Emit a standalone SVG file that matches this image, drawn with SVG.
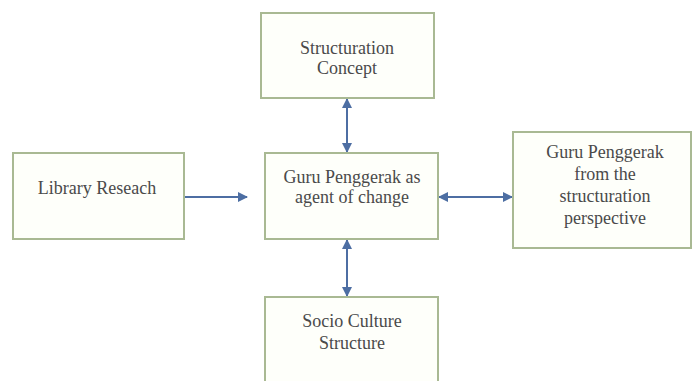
<svg xmlns="http://www.w3.org/2000/svg" width="692" height="381" viewBox="0 0 692 381">
<defs>
<style>
.box{fill:#fefffa;stroke:#a9b993;stroke-width:2}
.c{stroke:#4d6ea3;stroke-width:2;fill:none}
</style>
<marker id="ah" viewBox="0 0 10 10" refX="9" refY="5" markerWidth="5" markerHeight="5" orient="auto-start-reverse" markerUnits="strokeWidth">
<path d="M0,0 L10,5 L0,10 z" fill="#4d6ea3"/>
</marker>
</defs>
<rect width="692" height="381" fill="#ffffff"/>
<g id="connectors">
<line class="c" x1="185" y1="197" x2="247" y2="197" marker-end="url(#ah)"/>
<line class="c" x1="347" y1="99" x2="347" y2="152" marker-start="url(#ah)" marker-end="url(#ah)"/>
<line class="c" x1="347" y1="240" x2="347" y2="296" marker-start="url(#ah)" marker-end="url(#ah)"/>
<line class="c" x1="439" y1="197" x2="512" y2="197" marker-start="url(#ah)" marker-end="url(#ah)"/>
</g>
<g id="structuration">
<rect class="box" x="261" y="13" width="173" height="85"/>
<text font-family="Liberation Serif, serif" font-size="18" fill="#4a4a4a" text-anchor="middle" x="347" y="54">Structuration</text>
<text font-family="Liberation Serif, serif" font-size="18" fill="#4a4a4a" text-anchor="middle" x="347" y="74">Concept</text>
</g>
<g id="library">
<rect class="box" x="13" y="153" width="171" height="86"/>
<text font-family="Liberation Serif, serif" font-size="18" fill="#4a4a4a" text-anchor="middle" x="97" y="194">Library Reseach</text>
</g>
<g id="guru">
<rect class="box" x="265" y="153" width="173" height="86"/>
<text font-family="Liberation Serif, serif" font-size="18" fill="#4a4a4a" text-anchor="middle" x="352" y="183">Guru Penggerak as</text>
<text font-family="Liberation Serif, serif" font-size="18" fill="#4a4a4a" text-anchor="middle" x="352" y="203">agent of change</text>
</g>
<g id="perspective">
<rect class="box" x="513" y="132" width="178" height="116"/>
<text font-family="Liberation Serif, serif" font-size="18" fill="#4a4a4a" text-anchor="middle" x="605" y="158">Guru Penggerak</text>
<text font-family="Liberation Serif, serif" font-size="18" fill="#4a4a4a" text-anchor="middle" x="605" y="180">from the</text>
<text font-family="Liberation Serif, serif" font-size="18" fill="#4a4a4a" text-anchor="middle" x="605" y="202">structuration</text>
<text font-family="Liberation Serif, serif" font-size="18" fill="#4a4a4a" text-anchor="middle" x="605" y="224">perspective</text>
</g>
<g id="socio">
<rect class="box" x="265" y="297" width="173" height="90"/>
<text font-family="Liberation Serif, serif" font-size="18" fill="#4a4a4a" text-anchor="middle" x="352" y="327">Socio Culture</text>
<text font-family="Liberation Serif, serif" font-size="18" fill="#4a4a4a" text-anchor="middle" x="352" y="349">Structure</text>
</g>
</svg>
